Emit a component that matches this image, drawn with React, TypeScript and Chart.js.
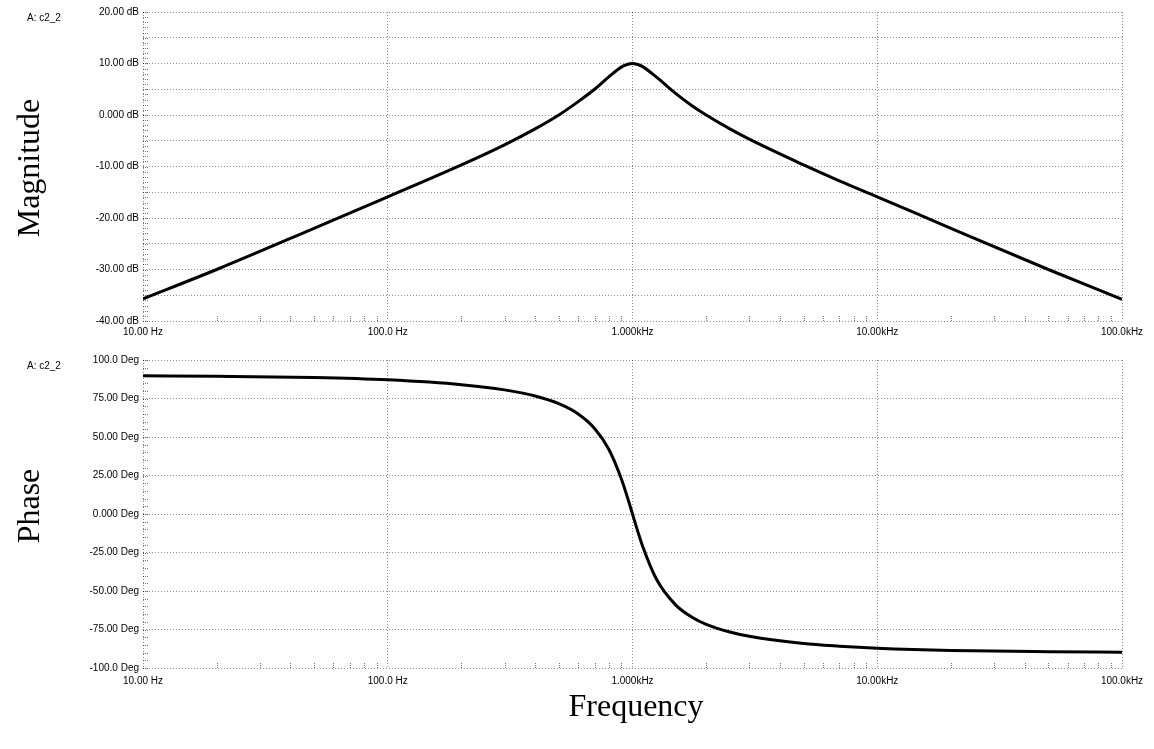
import React, { useEffect, useRef } from "react";
import { Chart, registerables } from "chart.js";

Chart.register(...registerables);

// ---- Data ----
const freqHz = [10, 20, 50, 100, 200, 300, 400, 500, 600, 700, 800, 900, 950, 1000, 1050, 1100, 1250, 1500, 1750, 2000, 2500, 3000, 5000, 7000, 10000, 20000, 50000, 100000];
const magnitudeDb = [-35.7, -30.0, -22.0, -15.9, -9.7, -5.8, -2.7, 0.0, 2.6, 5.0, 7.4, 9.3, 9.8, 10.0, 9.8, 9.4, 7.4, 4.2, 1.8, 0.0, -2.7, -4.7, -9.7, -12.8, -15.9, -22.0, -30.0, -35.8];
const phaseDeg = [89.7, 89.4, 88.6, 87.1, 84.0, 80.6, 76.6, 71.6, 64.9, 55.5, 42.0, 22.9, 11.6, 0.0, -11.1, -20.9, -42.0, -59.0, -67.0, -71.6, -76.6, -79.4, -84.1, -85.8, -87.1, -88.6, -89.4, -89.7];

const freqTickValues = [10, 100, 1000, 10000, 100000];
const freqTickLabels = ["10.00 Hz", "100.0 Hz", "1.000kHz", "10.00kHz", "100.0kHz"];

const magTickValues = [20, 10, 0, -10, -20, -30, -40];
const magTickLabels = ["20.00 dB", "10.00 dB", "0.000 dB", "-10.00 dB", "-20.00 dB", "-30.00 dB", "-40.00 dB"];

const phaseTickValues = [100, 75, 50, 25, 0, -25, -50, -75, -100];
const phaseTickLabels = ["100.0 Deg", "75.00 Deg", "50.00 Deg", "25.00 Deg", "0.000 Deg", "-25.00 Deg", "-50.00 Deg", "-75.00 Deg", "-100.0 Deg"];

const traceName = "A: c2_2";

const GRID = "rgba(0,0,0,0.45)";
const TICK_FONT = { family: "'Liberation Sans', Arial, sans-serif", size: 10 };

function minorTicksPlugin(yStep: number) {
  return {
    id: "minorTicks",
    beforeDatasetsDraw(chart: any) {
      const { ctx, chartArea: a, scales } = chart;
      const y = scales.y;
      const x = scales.x;
      ctx.save();
      ctx.strokeStyle = "rgba(0,0,0,0.55)";
      ctx.lineWidth = 1;
      ctx.setLineDash([1, 1]);
      for (let v = y.min; v <= y.max + 1e-9; v += yStep) {
        const py = Math.round(y.getPixelForValue(v)) + 0.5;
        ctx.beginPath();
        ctx.moveTo(a.left, py);
        ctx.lineTo(a.left + 5, py);
        ctx.stroke();
      }
      for (let d = 10; d < 100000; d *= 10) {
        for (let m = 2; m <= 9; m++) {
          const px = Math.round(x.getPixelForValue(d * m)) + 0.5;
          ctx.beginPath();
          ctx.moveTo(px, a.bottom);
          ctx.lineTo(px, a.bottom - 6);
          ctx.stroke();
        }
      }
      ctx.restore();
    },
  };
}

function buildChart(
  canvas: HTMLCanvasElement,
  values: number[],
  yMin: number,
  yMax: number,
  yStep: number,
  yTickValues: number[],
  yTickLabels: string[],
  padTop: number,
  xAxisHeight: number,
  xLabelPad: number,
  minorStep: number
) {
  const zeroPad = (s: any) => {
    s.paddingLeft = 0;
    s.paddingRight = 0;
    s.paddingTop = 0;
    s.paddingBottom = 0;
  };
  return new Chart(canvas, {
    type: "line",
    data: {
      datasets: [
        {
          data: freqHz.map((f, i) => ({ x: f, y: values[i] })),
          borderColor: "#000",
          borderWidth: 3,
          pointRadius: 0,
          cubicInterpolationMode: "monotone",
          fill: false,
        },
      ],
    },
    options: {
      responsive: false,
      animation: false,
      events: [],
      layout: { padding: { left: 0, top: padTop, right: 32, bottom: 0 } },
      plugins: { legend: { display: false }, tooltip: { enabled: false }, title: { display: false } },
      scales: {
        x: {
          type: "logarithmic",
          min: 10,
          max: 100000,
          afterBuildTicks: (s: any) => {
            s.ticks = freqTickValues.map((v) => ({ value: v }));
          },
          afterFit: (s: any) => {
            s.height = xAxisHeight;
            zeroPad(s);
          },
          ticks: {
            autoSkip: false,
            maxRotation: 0,
            minRotation: 0,
            padding: xLabelPad,
            color: "#000",
            font: TICK_FONT,
            callback: (_v: any, i: number) => freqTickLabels[i],
          },
          grid: { color: GRID, lineWidth: 1, drawTicks: false },
          border: { display: false, dash: [1, 2] },
        },
        y: {
          type: "linear",
          min: yMin,
          max: yMax,
          afterFit: (s: any) => {
            s.width = 143;
            zeroPad(s);
          },
          ticks: {
            stepSize: yStep,
            padding: 4,
            color: "#000",
            font: TICK_FONT,
            callback: (v: any) => {
              const idx = yTickValues.indexOf(Number(v));
              return idx >= 0 ? yTickLabels[idx] : "";
            },
          },
          grid: { color: GRID, lineWidth: 1, drawTicks: false },
          border: { display: false, dash: [1, 2] },
        },
      },
    } as any,
    plugins: [minorTicksPlugin(minorStep)],
  });
}

export default function App() {
  const magRef = useRef<HTMLCanvasElement>(null);
  const phaseRef = useRef<HTMLCanvasElement>(null);

  useEffect(() => {
    const c1 = buildChart(magRef.current!, magnitudeDb, -40, 20, 5, magTickValues, magTickLabels, 12, 24, 5, 1);
    const c2 = buildChart(phaseRef.current!, phaseDeg, -100, 100, 25, phaseTickValues, phaseTickLabels, 15, 37, 7, 5);
    return () => {
      c1.destroy();
      c2.destroy();
    };
  }, []);

  const serif: React.CSSProperties = {
    position: "absolute",
    fontFamily: "'Liberation Serif', 'Times New Roman', serif",
    fontSize: 32,
    lineHeight: 1,
    whiteSpace: "nowrap",
    color: "#000",
  };
  const small: React.CSSProperties = {
    position: "absolute",
    fontFamily: "'Liberation Sans', Arial, sans-serif",
    fontSize: 10,
    lineHeight: 1,
    whiteSpace: "nowrap",
    color: "#000",
  };

  return (
    <div style={{ position: "absolute", left: 0, top: 0, width: 1154, height: 749, background: "#fff", overflow: "hidden" }}>
      <canvas ref={magRef} width={1154} height={345} style={{ position: "absolute", left: 0, top: 0, width: 1154, height: 345 }} />
      <canvas ref={phaseRef} width={1154} height={360} style={{ position: "absolute", left: 0, top: 345, width: 1154, height: 360 }} />
      <div style={{ ...small, left: 27, top: 13 }}>{traceName}</div>
      <div style={{ ...small, left: 27, top: 361 }}>{traceName}</div>
      <div style={{ ...serif, left: 28, top: 168, transform: "translate(-50%, -50%) rotate(-90deg)" }}>Magnitude</div>
      <div style={{ ...serif, left: 28, top: 506, transform: "translate(-50%, -50%) rotate(-90deg)" }}>Phase</div>
      <div style={{ ...serif, left: 636, top: 705, transform: "translate(-50%, -50%)" }}>Frequency</div>
    </div>
  );
}
